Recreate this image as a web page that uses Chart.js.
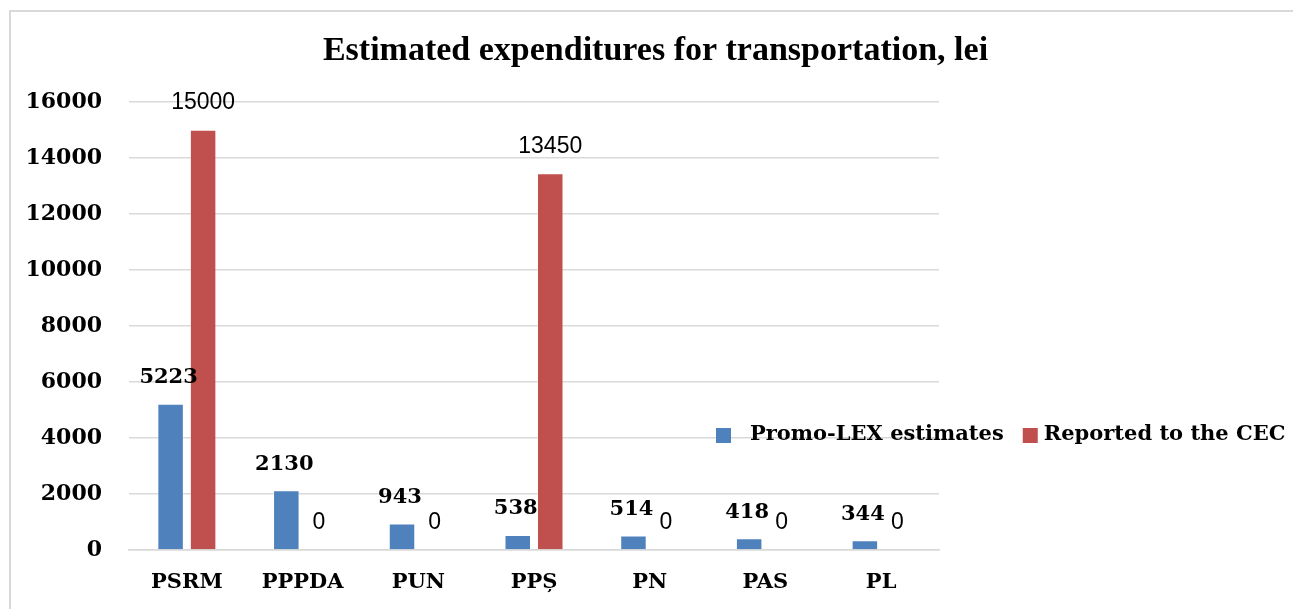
<!DOCTYPE html>
<html>
<head>
<meta charset="utf-8">
<script src="https://cdn.jsdelivr.net/npm/chart.js@4/dist/chart.umd.min.js"></script>
<style>
    html, body { margin: 0; padding: 0; background: #fff; overflow: hidden; width: 1293px; height: 609px; }
    #rahmen { position: absolute; left: 9px; top: 10px; width: 2000px; height: 1000px; border-left: 2px solid #d9d9d9; border-top: 2px solid #d9d9d9; }
    #wrap { position: absolute; left: 0; top: 0; width: 1293px; height: 609px; }
</style>
</head>
<body>
<div id="rahmen"></div>
<div id="wrap"><canvas id="kostenChart" width="1293" height="609"></canvas></div>
<script>
var parteien = ['PSRM', 'PPPDA', 'PUN', 'PPȘ', 'PN', 'PAS', 'PL'];
var promoLex = [5223, 2130, 943, 538, 514, 418, 344];
var cec = [15000, 0, 0, 13450, 0, 0, 0];
var yTicks = [0, 2000, 4000, 6000, 8000, 10000, 12000, 14000, 16000];
var serienNamen = ['Promo-LEX estimates', 'Reported to the CEC'];

var serifBold = 'bold 21px "DejaVu Serif"';

// Werte ueber den Balken
var wertePlugin = {
    id: 'werte',
    afterDatasetsDraw: function(chart) {
        var ctx = chart.ctx;
        ctx.save();
        ctx.textAlign = 'center';
        ctx.textBaseline = 'middle';
        ctx.fillStyle = '#000';
        chart.data.datasets.forEach(function(ds, i) {
            var meta = chart.getDatasetMeta(i);
            meta.data.forEach(function(bar, j) {
                if (i === 0) {
                    ctx.font = serifBold;
                    ctx.fillText(String(ds.data[j]), bar.x - 2, bar.y - 26);
                } else {
                    ctx.font = '23px "Liberation Sans"';
                    ctx.fillText(String(ds.data[j]), bar.x, bar.y - 27);
                }
            });
        });
        ctx.restore();
    }
};

// Legende in einer Zeile rechts
var legendePlugin = {
    id: 'legende',
    afterDraw: function(chart) {
        var ctx = chart.ctx;
        var x = chart.chartArea.right - 223;
        var y = 435;
        var abstand = [34, 21];
        ctx.save();
        ctx.font = serifBold;
        ctx.textBaseline = 'middle';
        ctx.textAlign = 'left';
        chart.data.datasets.forEach(function(ds, i) {
            ctx.fillStyle = ds.backgroundColor;
            ctx.fillRect(x, y - 7, 15, 15);
            ctx.fillStyle = '#000';
            ctx.fillText(ds.label, x + abstand[i], y);
            x += abstand[i] + ctx.measureText(ds.label).width + 19;
        });
        ctx.restore();
    }
};

var ctx = document.getElementById('kostenChart').getContext('2d');
var kostenChart = new Chart(ctx, {
    type: 'bar',
    data: {
        labels: parteien,
        datasets: [
            { label: serienNamen[0], data: promoLex, backgroundColor: '#4F81BD', borderColor: 'rgba(255,255,255,0.35)', borderWidth: 1 },
            { label: serienNamen[1], data: cec, backgroundColor: '#C0504D', borderColor: 'rgba(255,255,255,0.35)', borderWidth: 1 }
        ]
    },
    options: {
        responsive: false, animation: false,
        layout: { padding: { left: 18, right: 0, top: 0, bottom: 0 } },
        categoryPercentage: 0.562,
        barPercentage: 0.815,
        plugins: {
            legend: { display: false },
            tooltip: { enabled: false },
            title: {
                display: true,
                text: 'Estimated expenditures for transportation, lei',
                color: '#000',
                font: { family: 'Liberation Serif', size: 34, weight: 'bold' },
                padding: { top: 31, bottom: 30 }
            }
        },
        scales: {
            x: {
                grid: { display: false, drawTicks: false },
                border: { display: true, color: '#d9d9d9', width: 1.5 },
                ticks: { color: '#000', font: { family: 'DejaVu Serif', size: 21, weight: 'bold' }, padding: 20 },
                afterFit: function(s) { s.height = 59; }
            },
            y: {
                min: yTicks[0], max: yTicks[yTicks.length - 1],
                afterBuildTicks: function(s) { s.ticks = yTicks.map(function(v) { return { value: v }; }); },
                grid: { color: '#d9d9d9', lineWidth: 1.5, drawTicks: false },
                border: { display: false },
                ticks: {
                    color: '#000', font: { family: 'DejaVu Serif', size: 22, weight: 'bold' }, padding: 27,
                    callback: function(v) { return String(v); }
                },
                afterFit: function(s) { s.width = 111; }
            },
            rechts: {
                position: 'right',
                grid: { display: false, drawTicks: false },
                border: { display: false },
                ticks: { display: false },
                afterFit: function(s) { s.width = 354; }
            }
        }
    },
    plugins: [wertePlugin, legendePlugin]
});
</script>
</body>
</html>
